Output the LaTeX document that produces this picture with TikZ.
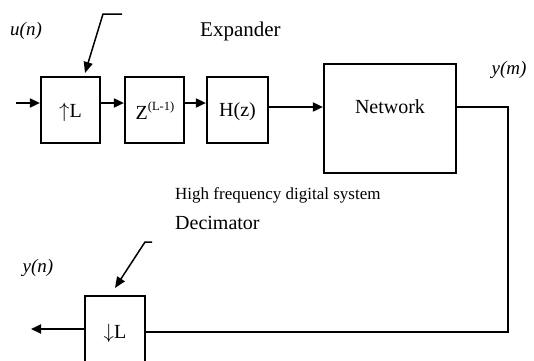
\documentclass[tikz,border=0pt]{standalone}
\usepackage{fontspec}
\setmainfont{Liberation Serif}
\usetikzlibrary{arrows.meta}
\begin{document}
\begin{tikzpicture}[x=1pt,y=-1pt,
  blk/.style={draw,line width=2.2pt,inner sep=0pt,font=\fontsize{20}{22}\selectfont},
  lbl/.style={inner sep=0pt,font=\fontsize{20}{22}\selectfont},
  sig/.style={inner sep=0pt,font=\fontsize{19}{21}\selectfont\itshape},
  flow/.style={line width=1.8pt,-{Triangle[length=10pt,width=9pt]}},
  wire/.style={line width=1.2pt},
  ptr/.style={line width=1.5pt,-{Triangle[length=11pt,width=9pt]}}]
\useasboundingbox (0,0) rectangle (534,360);
\clip (0,0) rectangle (534,360);
% blocks
\node[blk,minimum width=59pt,minimum height=66pt] (up) at (70.5,110) {};
\node[lbl] (uptext) at (70.5,112) {$\uparrow$L};
\node[blk,minimum width=59pt,minimum height=66pt] (zd) at (154.5,110) {};
\node[lbl] (ztext) at (155,111) {Z\raisebox{0.45em}{\fontsize{12.5}{13}\selectfont(L-1)}};
\node[blk,minimum width=61pt,minimum height=66pt] (hz) at (237.5,110) {};
\node[lbl] (htext) at (237.5,112) {H(z)};
\node[blk,minimum width=132pt,minimum height=109pt] (net) at (390,118.5) {};
\node[lbl] (nettext) at (390,107) {Network};
\node[blk,minimum width=60pt,minimum height=74pt] (dn) at (115,333) {};
\node[lbl] (dntext) at (115,333) {$\downarrow$L};
% labels
\node[sig] (un) at (26,31) {u(n)};
\node[sig] (ym) at (509,70) {y(m)};
\node[sig] (yn) at (38,268) {y(n)};
\node[lbl,anchor=west,font=\fontsize{21}{23}\selectfont] (exp) at (200,31) {Expander};
\node[lbl,anchor=west,font=\fontsize{17}{19}\selectfont] (hf) at (175,195) {High frequency digital system};
\node[lbl,anchor=west] (dec) at (175,223) {Decimator};
% coordinates
\coordinate (in) at (16,103);
\coordinate (out) at (31,329);
\coordinate (c1) at (508,107);
\coordinate (c2) at (508,332);
\coordinate (e1) at (122,14);
\coordinate (e2) at (103,14);
\coordinate (e3) at (85,73);
\coordinate (d1) at (152,242);
\coordinate (d2) at (145,242);
\coordinate (d3) at (115,288);
% connectors
\draw[flow] (in) -- (in -| up.west);
\draw[flow] (up.east |- in) -- (zd.west |- in);
\draw[flow] (zd.east |- in) -- (hz.west |- in);
\draw[flow] (hz.east |- c1) -- (net.west |- c1);
\draw[wire] (net.east |- c1) -- (c1) -- (c2) -- (dn.east |- c2);
\draw[flow] (dn.west |- out) -- (out);
\draw[ptr] (e1) -- (e2) -- (e3);
\draw[ptr] (d1) -- (d2) -- (d3);
\end{tikzpicture}
\end{document}
